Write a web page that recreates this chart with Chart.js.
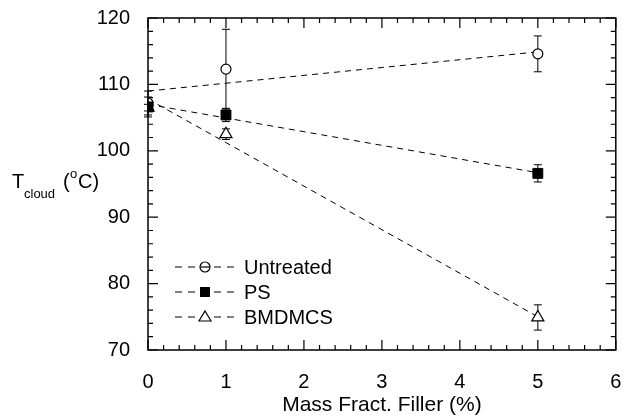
<!DOCTYPE html>
<html>
<head>
<meta charset="utf-8">
<script src="https://cdn.jsdelivr.net/npm/chart.js@4.4.1/dist/chart.umd.min.js"></script>
<style>
  html, body { margin: 0; padding: 0; background: #fff; }
  #wrap { width: 624px; height: 418px; position: relative; }
</style>
</head>
<body>
<div id="wrap"><canvas id="myChart"></canvas></div>
<script>
// data
var fillerX = [0, 1, 5];
var untreated = [107.2, 112.3, 114.6];
var untreatedErr = [1.8, 6.0, 2.7];
var ps = [106.6, 105.4, 96.6];
var psErr = [1.5, 1.0, 1.3];
var bmdmcs = [106.5, 102.5, 74.9];
var bmdmcsErr = [0.5, 0.8, 1.9];

// dashed lines drawn on the figure (ends at x = 0 and x = 5)
var lineX = [0, 5];
var untreatedLine = [109.0, 114.9];
var psLine = [107.0, 96.7];
var bmdmcsLine = [107.8, 75.0];

var xTicks = [0, 1, 2, 3, 4, 5, 6];
var yTicks = [70, 80, 90, 100, 110, 120];

var FONT = 'Liberation Sans, Arial, Helvetica, sans-serif';

function pts(xs, ys) {
    var out = [];
    for (var i = 0; i < xs.length; i++) out.push({ x: xs[i], y: ys[i] });
    return out;
}

// error bars, frame, inward ticks, legend and y title
var decorations = {
    id: 'decorations',
    beforeDatasetsDraw: function(chart) {
        var ctx = chart.ctx;
        var xs = chart.scales.x, ys = chart.scales.y;
        var sets = [[untreated, untreatedErr], [ps, psErr], [bmdmcs, bmdmcsErr]];
        ctx.save();
        ctx.strokeStyle = '#000';
        ctx.lineWidth = 1;
        sets.forEach(function(s) {
            for (var i = 0; i < fillerX.length; i++) {
                var px = xs.getPixelForValue(fillerX[i]);
                var top = ys.getPixelForValue(s[0][i] + s[1][i]);
                var bot = ys.getPixelForValue(s[0][i] - s[1][i]);
                ctx.beginPath();
                ctx.moveTo(px, top); ctx.lineTo(px, bot);
                ctx.moveTo(px - 4, top); ctx.lineTo(px + 4, top);
                ctx.moveTo(px - 4, bot); ctx.lineTo(px + 4, bot);
                ctx.stroke();
            }
        });
        ctx.restore();
    },
    afterDraw: function(chart) {
        var ctx = chart.ctx;
        var a = chart.chartArea;
        var xs = chart.scales.x, ys = chart.scales.y;
        ctx.save();
        ctx.strokeStyle = '#000';
        ctx.lineWidth = 1.5;
        ctx.strokeRect(a.left, a.top, a.right - a.left, a.bottom - a.top);

        // ticks pointing inwards on all four sides
        ctx.lineWidth = 1.2;
        ctx.beginPath();
        for (var v = 0; v <= 60; v += 2) {
            var px = xs.getPixelForValue(v / 10);
            var len = (v % 10 == 0) ? 10 : 5;
            ctx.moveTo(px, a.bottom); ctx.lineTo(px, a.bottom - len);
            ctx.moveTo(px, a.top); ctx.lineTo(px, a.top + len);
        }
        for (var yv = 70; yv <= 120; yv += 2) {
            var py = ys.getPixelForValue(yv);
            var ylen = (yv % 10 == 0) ? 10 : 5;
            ctx.moveTo(a.left, py); ctx.lineTo(a.left + ylen, py);
            ctx.moveTo(a.right, py); ctx.lineTo(a.right - ylen, py);
        }
        ctx.stroke();

        // legend
        var items = [
            { label: 'Untreated', style: 'circle' },
            { label: 'PS', style: 'rect' },
            { label: 'BMDMCS', style: 'triangle' }
        ];
        ctx.fillStyle = '#000';
        ctx.font = '20px ' + FONT;
        ctx.textBaseline = 'middle';
        items.forEach(function(it, i) {
            var y = 267 + i * 25;
            ctx.lineWidth = 1;
            ctx.setLineDash([7, 6]);
            ctx.beginPath();
            ctx.moveTo(175, y); ctx.lineTo(198, y);
            ctx.moveTo(214, y); ctx.lineTo(237, y);
            ctx.stroke();
            ctx.setLineDash([]);
            ctx.lineWidth = 1.2;
            if (it.style == 'circle') {
                ctx.beginPath();
                ctx.arc(205, y, 5, 0, Math.PI * 2);
                ctx.stroke();
                ctx.beginPath();
                ctx.moveTo(200, y); ctx.lineTo(210, y);
                ctx.stroke();
            } else if (it.style == 'rect') {
                ctx.fillRect(200, y - 5, 10, 10);
            } else {
                ctx.beginPath();
                ctx.moveTo(205, y - 6);
                ctx.lineTo(211, y + 4);
                ctx.lineTo(199, y + 4);
                ctx.closePath();
                ctx.stroke();
            }
            ctx.fillText(it.label, 244, y + 1);
        });

        // y title: T_cloud (oC)
        ctx.textBaseline = 'alphabetic';
        ctx.font = '20px ' + FONT;
        ctx.fillText('T', 12, 188);
        ctx.font = '13px ' + FONT;
        ctx.fillText('cloud', 24, 198);
        ctx.font = '20px ' + FONT;
        ctx.fillText('(', 63, 188);
        ctx.font = '13px ' + FONT;
        ctx.fillText('o', 70, 178);
        ctx.font = '20px ' + FONT;
        ctx.fillText('C)', 78, 188);
        ctx.restore();
    }
};

var ctx = document.getElementById('myChart').getContext('2d');

var myChart = new Chart(ctx, {
    type: 'scatter',
    data: {
        datasets: [
            {
                label: 'Untreated',
                data: pts(fillerX, untreated),
                order: 3,
                pointStyle: 'circle',
                pointRadius: 5,
                backgroundColor: '#fff',
                borderColor: '#000',
                borderWidth: 1.2,
                showLine: false
            },
            {
                label: 'PS',
                data: pts(fillerX, ps),
                order: 1,
                pointStyle: 'rect',
                pointRadius: 7,
                backgroundColor: '#000',
                borderColor: '#000',
                borderWidth: 1,
                showLine: false
            },
            {
                label: 'BMDMCS',
                data: pts(fillerX, bmdmcs),
                order: 2,
                pointStyle: 'triangle',
                pointRadius: 7,
                backgroundColor: '#fff',
                borderColor: '#000',
                borderWidth: 1.2,
                showLine: false
            },
            {
                label: 'Untreated line',
                data: pts(lineX, untreatedLine),
                order: 4,
                showLine: true,
                borderColor: '#000',
                borderWidth: 1,
                borderDash: [6, 5],
                pointRadius: 0
            },
            {
                label: 'PS line',
                data: pts(lineX, psLine),
                order: 5,
                showLine: true,
                borderColor: '#000',
                borderWidth: 1,
                borderDash: [6, 5],
                pointRadius: 0
            },
            {
                label: 'BMDMCS line',
                data: pts(lineX, bmdmcsLine),
                order: 6,
                showLine: true,
                borderColor: '#000',
                borderWidth: 1,
                borderDash: [6, 5],
                pointRadius: 0
            }
        ]
    },
    options: {
        responsive: true,
        maintainAspectRatio: false,
        animation: false,
        layout: { padding: { left: 0, top: 18, right: 6, bottom: 0 } },
        plugins: {
            legend: { display: false },
            tooltip: { enabled: false }
        },
        scales: {
            x: {
                type: 'linear',
                min: 0,
                max: 6,
                grid: { display: false, drawTicks: false },
                border: { display: false },
                afterBuildTicks: function(scale) {
                    scale.ticks = xTicks.map(function(v) { return { value: v }; });
                },
                afterFit: function(scale) {
                    scale.height = 68;
                    scale.paddingLeft = 0;
                    scale.paddingRight = 0;
                },
                ticks: {
                    color: '#000',
                    padding: 20,
                    maxRotation: 0,
                    font: { family: FONT, size: 20 }
                },
                title: {
                    display: true,
                    text: 'Mass Fract. Filler (%)',
                    color: '#000',
                    padding: { top: 0, bottom: 0 },
                    font: { family: FONT, size: 21 }
                }
            },
            y: {
                type: 'linear',
                min: 70,
                max: 120,
                grid: { display: false, drawTicks: false },
                border: { display: false },
                afterBuildTicks: function(scale) {
                    scale.ticks = yTicks.map(function(v) { return { value: v }; });
                },
                afterFit: function(scale) {
                    scale.width = 148;
                    scale.paddingTop = 0;
                    scale.paddingBottom = 0;
                },
                ticks: {
                    color: '#000',
                    padding: 18,
                    font: { family: FONT, size: 20 }
                }
            }
        }
    },
    plugins: [decorations]
});
</script>
</body>
</html>
